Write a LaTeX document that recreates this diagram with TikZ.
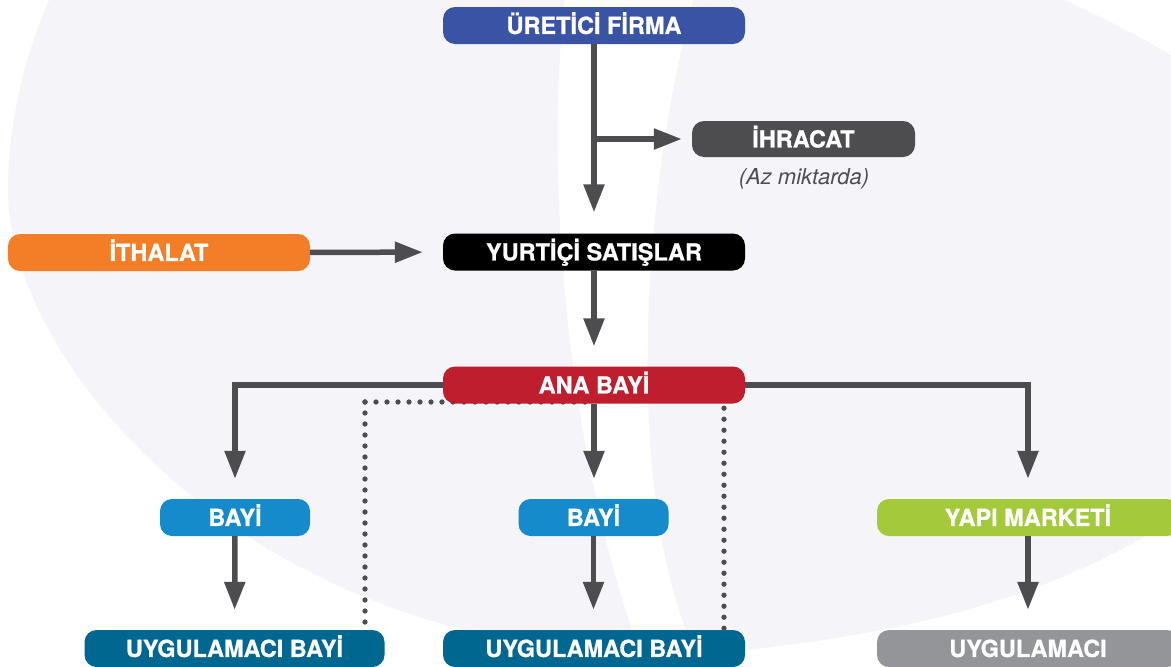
\documentclass[tikz,border=0pt]{standalone}
\usepackage{fontspec}
\setmainfont{TeX Gyre Heros}[BoldFeatures={FakeBold=0.8}]
\usetikzlibrary{arrows.meta}

\definecolor{tint}{RGB}{244,244,249}
\definecolor{linegray}{RGB}{77,77,79}
\definecolor{cblue}{RGB}{58,83,164}
\definecolor{cdark}{RGB}{77,77,79}
\definecolor{corange}{RGB}{244,125,40}
\definecolor{cred}{RGB}{190,30,45}
\definecolor{csky}{RGB}{22,139,203}
\definecolor{cgreen}{RGB}{164,201,58}
\definecolor{cteal}{RGB}{0,104,144}
\definecolor{cgray}{RGB}{147,149,152}
\newcommand\labelfont{\bfseries\fontsize{23.5}{28}\selectfont}

\pgfdeclarelayer{back}
\pgfdeclarelayer{under}
\pgfsetlayers{back,under,main}

\begin{document}
\begin{tikzpicture}[x=1pt,y=-1pt,
  box/.style={rounded corners=12pt, minimum height=37pt, minimum width=302pt,
    inner sep=0pt, text=white, font=\labelfont, text height=16.9pt, text depth=0pt},
  flow/.style={draw=linegray, line width=5.5pt,
    -{Triangle[width=20pt,length=28pt]}, shorten >=20pt},
  dotline/.style={draw=linegray, line width=5.3pt, line cap=round,
    dash pattern=on 0pt off 11pt}]

\useasboundingbox (0,0) rectangle (1171,667);

% soft background shapes with a white curved band between them
\begin{pgfonlayer}{back}
  \fill[white] (0,0) rectangle (1171,667);
  \begin{scope}
    \clip (-40,-40) -- (566,-40) -- (566,-10)
      .. controls (545,150) and (560,450) .. (650,680)
      -- (650,700) -- (-40,700) -- cycle;
    \fill[tint] (70,-40) .. controls (28,30) and (8,120) .. (8,190)
      .. controls (8,370) and (260,652) .. (650,652)
      -- (760,655) -- (760,-40) -- cycle;
  \end{scope}
  \fill[tint] (705,-40) .. controls (645,150) and (620,470) .. (690,640)
    .. controls (700,655) and (730,652) .. (770,647)
    .. controls (920,630) and (1080,590) .. (1200,500)
    -- (1300,500) -- (1300,80) -- (1210,80)
    .. controls (1120,20) and (1060,0) .. (980,-40) -- cycle;
\end{pgfonlayer}

% boxes
\node[box, fill=cblue] (ure) at (594,25.5) {ÜRETİCİ FİRMA};
\node[box, fill=cdark, minimum width=223pt, minimum height=36pt] (ihr) at (803.5,139) {İHRACAT};
\node[font=\itshape\fontsize{22}{26}\selectfont, text=cdark, inner sep=0pt] (az) at (804,179) {(Az miktarda)};
\node[box, fill=corange] (ith) at (159,252.5) {İTHALAT};
\node[box, fill=black] (yur) at (594,252) {YURTİÇİ SATIŞLAR};
\node[box, fill=cred] (ana) at (594,385) {ANA BAYİ};
\node[box, fill=csky, minimum width=150pt] (bl) at (235,517.5) {BAYİ};
\node[box, fill=csky, minimum width=150pt] (bm) at (593.5,517.5) {BAYİ};
\node[box, fill=cgreen] (yap) at (1028,517.5) {YAPI MARKETİ};
\node[box, fill=cteal, minimum width=300pt] (ul) at (234.5,648.5) {UYGULAMACI BAYİ};
\node[box, fill=cteal] (um) at (594,648.5) {UYGULAMACI BAYİ};
\node[box, fill=cgray] (ug) at (1028,648.5) {UYGULAMACI};

% solid flow arrows
\draw[flow, shorten >=21pt] (ure) -- (yur);
\draw[flow, shorten >=10pt] (ure.south |- ihr.west) -- (ihr.west);
\draw[flow] (ith) -- (yur);
\draw[flow] (yur) -- (ana);
\draw[flow] (ana.west) -| (bl.north);
\draw[flow] (ana.east) -| (yap.north);
\draw[flow] (ana.south) -- (ana.south |- bm.north);
\draw[flow] (bl) -- (ul);
\draw[flow] (bm.south) -- (bm.south |- um.north);
\draw[flow] (yap) -- (ug);

% dotted side links
\coordinate (dl) at (365,402);
\coordinate (dr) at (724,500);
\begin{pgfonlayer}{under}
  \draw[dotline] (dl) -- (dl |- ul.north);
  \draw[dotline] (dl) -- (ana.center |- dl);
  \draw[dotline] ([yshift=-4.5pt]dr |- ana.south) -- (dr |- um.north);
\end{pgfonlayer}

\end{tikzpicture}
\end{document}
